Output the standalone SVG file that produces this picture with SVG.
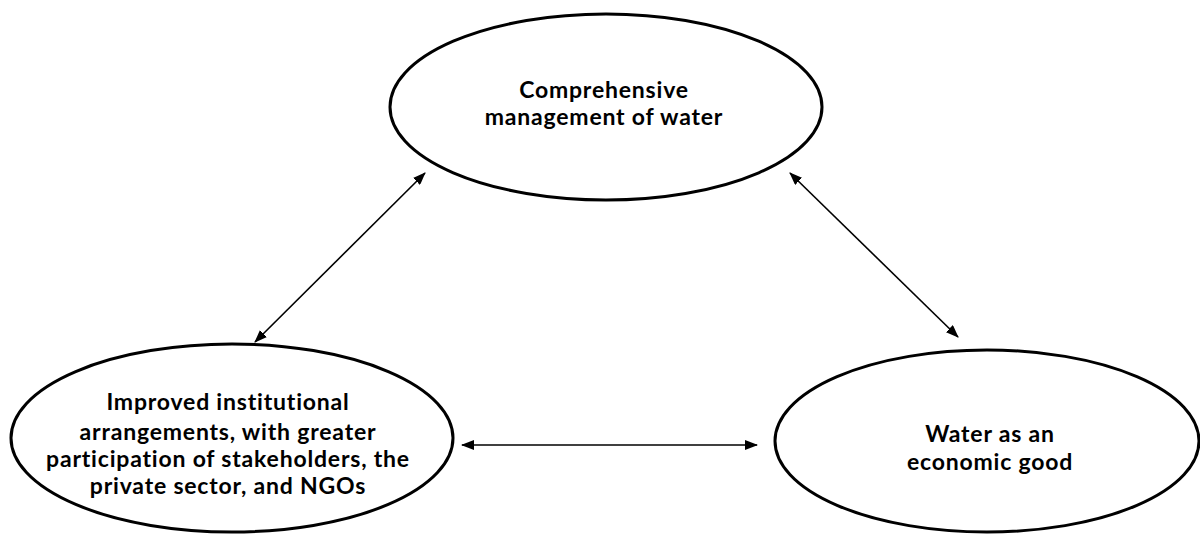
<svg xmlns="http://www.w3.org/2000/svg" width="1200" height="534" viewBox="0 0 1200 534">
<style>
.node{fill:#fff;stroke:#000;stroke-width:3}
.lbl{font-family:Lato,"Open Sans","Liberation Sans",sans-serif;font-weight:bold;font-size:23px;letter-spacing:0.8px;fill:#000;text-anchor:middle}
.conn{stroke:#000;stroke-width:1.6;fill:none;marker-start:url(#ah);marker-end:url(#ah)}
</style>
<defs>
<marker id="ah" viewBox="0 0 13 10" refX="12" refY="5" markerWidth="13" markerHeight="10" markerUnits="userSpaceOnUse" orient="auto-start-reverse">
<path d="M0,0 L13,5 L0,10 Z" fill="#000"/>
</marker>
</defs>
<rect width="1200" height="534" fill="#fff"/>
<g id="n-top">
<ellipse class="node" cx="606" cy="107" rx="216" ry="93"/>
<text class="lbl" x="604" y="98">Comprehensive</text>
<text class="lbl" x="604" y="125">management of water</text>
</g>
<g id="n-left">
<ellipse class="node" cx="232" cy="438" rx="221" ry="94"/>
<text class="lbl" x="228" y="410">Improved institutional</text>
<text class="lbl" x="228" y="440">arrangements, with greater</text>
<text class="lbl" x="228" y="467">participation of stakeholders, the</text>
<text class="lbl" x="228" y="494">private sector, and NGOs</text>
</g>
<g id="n-right">
<ellipse class="node" cx="987" cy="441" rx="212" ry="91"/>
<text class="lbl" x="990" y="442">Water as an</text>
<text class="lbl" x="990" y="470">economic good</text>
</g>
<g id="connectors">
<line class="conn" x1="255" y1="342" x2="425" y2="173"/>
<line class="conn" x1="790" y1="173" x2="958" y2="337"/>
<line class="conn" x1="462" y1="445" x2="757" y2="445"/>
</g>
</svg>
